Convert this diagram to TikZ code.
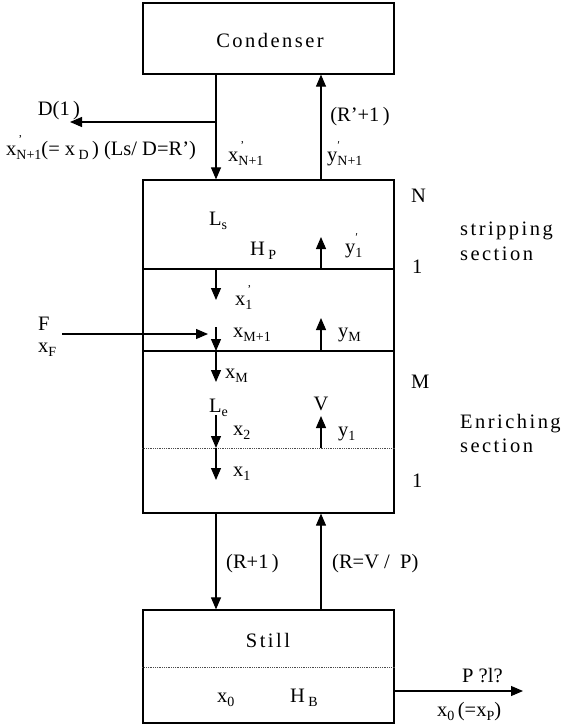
\documentclass[tikz,border=0pt]{standalone}
\usepackage{fontspec}
\setmainfont{Liberation Serif}
\newfontfamily\spacedfont[LetterSpace=12]{Liberation Serif}
\usetikzlibrary{arrows.meta}
\newcommand\sbx[1]{\raisebox{-0.22em}{\fontsize{14}{14}\selectfont #1}}
\newcommand\psbx[2]{\rlap{\raisebox{0.55em}{\fontsize{12}{12}\selectfont #1}}\raisebox{-0.22em}{\fontsize{14}{14}\selectfont #2}}
\begin{document}
\begin{tikzpicture}[x=1pt,y=-1pt,
  box/.style={draw, line width=1.2pt, minimum width=251pt, inner sep=0pt},
  arr/.style={line width=1.1pt, -{Triangle[length=12pt,width=10pt]}},
  dots/.style={densely dotted, line width=0.8pt, black!70},
  lbl/.style={inner sep=0pt, font=\fontsize{20.5}{24}\selectfont, anchor=base west},
  lblc/.style={lbl, anchor=base},
  sp/.style={inner sep=0pt, font=\spacedfont\fontsize{20.5}{24}\selectfont, anchor=base west},
  spc/.style={sp, anchor=base}]
\useasboundingbox (0,0) rectangle (561,728);

% boxes
\node[box, minimum height=71pt] (cond) at (268.5,38.5) {};
\node[box, minimum height=333pt] (col) at (268.5,346.5) {};
\node[box, minimum height=113pt] (still) at (268.5,666.5) {};

% internal lines
\draw[line width=1.2pt] (col.west |- 0,269) -- (col.east |- 0,269);
\draw[line width=1.2pt] (col.west |- 0,351) -- (col.east |- 0,351);
\draw[dots] (col.west |- 0,448) -- (col.east |- 0,448);
\draw[dots] (still.west |- 0,667) -- (still.east |- 0,667);

% free-end coordinates
\coordinate (dsplit) at (216,122);
\coordinate (dtip) at (70,122);
\coordinate (sA) at (216,300);
\coordinate (sB) at (321,237);
\coordinate (fS) at (62,334);
\coordinate (fE) at (208,334);
\coordinate (mA) at (216,327);
\coordinate (mB) at (321,318);
\coordinate (eA) at (216,382);
\coordinate (eB) at (216,415);
\coordinate (eC) at (216,448);
\coordinate (eD) at (321,448);
\coordinate (eE) at (321,416);
\coordinate (eF) at (216,480);
\coordinate (oE) at (523,691);

% connectors
\draw[arr] (cond.south -| 216,0) -- (col.north -| 216,0);
\draw[arr] (col.north -| 321,0) -- (cond.south -| 321,0);
\draw[arr] (dsplit) -- (dtip);
\draw[arr] (216,269) -- (sA);
\draw[arr] (321,269) -- (sB);
\draw[arr] (fS) -- (fE);
\draw[arr] (mA) -- (216,351);
\draw[arr] (321,351) -- (mB);
\draw[arr] (216,351) -- (eA);
\draw[arr] (eB) -- (eC);
\draw[arr] (eD) -- (eE);
\draw[arr] (eC) -- (eF);
\draw[arr] (col.south -| 216,0) -- (still.north -| 216,0);
\draw[arr] (still.north -| 321,0) -- (col.south -| 321,0);
\draw[arr] (still.east |- 0,691) -- (oE);

% labels
\node[spc] (tcond) at (270,47) {Condenser};
\node[lblc] (tD) at (59,115) {D(1\,)};
\node[lbl] (tlong) at (6,155) {x\psbx{\,'}{N+1}(= x\,\sbx{D}\,) (Ls/ D=R’)};
\node[lbl] (txN) at (228,161) {x\psbx{\,'}{N+1}};
\node[lblc] (tRp) at (360,121) {(R’+1\,)};
\node[lbl] (tyN) at (327,161) {y\psbx{′}{N+1}};

\node[lbl] (tLs) at (209,225) {L\sbx{s}};
\node[lbl] (tHP) at (250,255) {H\,\sbx{P}};
\node[lbl] (ty1p) at (345,253) {y\psbx{′}{1}};
\node[lbl] (tx1p) at (235,305) {x\psbx{\,'}{1}};
\node[lbl] (txM1) at (233,337) {x\sbx{M+1}};
\node[lbl] (tyM) at (338,337) {y\sbx{M}};
\node[lbl] (txM) at (225,378) {x\sbx{M}};
\node[lbl] (tLe) at (209,412) {L\sbx{e}};
\node[lblc] (tV) at (321,410) {V};
\node[lbl] (tx2) at (233,435) {x\sbx{2}};
\node[lbl] (ty1) at (338,436) {y\sbx{1}};
\node[lbl] (tx1) at (233,476) {x\sbx{1}};

\node[lbl] (tN) at (411,202) {N};
\node[sp] (tstr) at (460,235) {stripping};
\node[sp] (tsec1) at (460,260) {section};
\node[lbl] (tone1) at (412,273) {1};
\node[lbl] (tM) at (411,388) {M};
\node[sp] (tenr) at (460,428) {Enriching};
\node[sp] (tsec2) at (460,452) {section};
\node[lbl] (tone2) at (412,487) {1};

\node[lbl] (tF) at (38,330) {F};
\node[lbl] (txF) at (38,352) {x\sbx{F}};

\node[lbl] (tR1) at (226,568) {(R+1\,)};
\node[lbl] (tRV) at (332,568) {(R=V /\ \ P)};
\node[spc] (tstill) at (268,647) {Still};
\node[lbl] (tx0) at (217,702) {x\sbx{0}};
\node[lbl] (tHB) at (290,702) {H\,\sbx{B}};
\node[lbl] (tP) at (462,682) {P ?l?};
\node[lbl] (tx0p) at (437,716) {x\sbx{0}\,(=x\sbx{P})};
\end{tikzpicture}
\end{document}
